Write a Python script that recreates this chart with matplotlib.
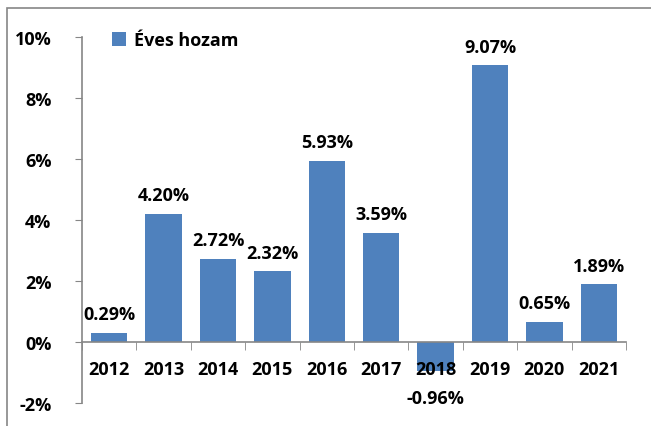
import numpy as np
import matplotlib.pyplot as plt
from matplotlib.patches import Rectangle

plt.rcParams['font.family'] = ['Open Sans', 'DejaVu Sans']

# Adatok
evek = ["2012", "2013", "2014", "2015", "2016", "2017", "2018", "2019", "2020", "2021"]
hozam = [0.29, 4.20, 2.72, 2.32, 5.93, 3.59, -0.96, 9.07, 0.65, 1.89]
sorozat = "Éves hozam"

FS = 13

W, H = 651, 427
fig = plt.figure(figsize=(W / 100, H / 100), dpi=100)
ax = fig.add_axes([82 / W, (H - 404) / H, 544 / W, 366 / H])

# tengelyek (spine pozíció előbb, mert újraépíti a tickeket)
for s in ["top", "right"]:
    ax.spines[s].set_visible(False)
ax.spines["bottom"].set_position(("data", 0))
for s in ["left", "bottom"]:
    ax.spines[s].set_color("#868686")
    ax.spines[s].set_linewidth(1.2)

x = np.arange(len(evek))
bars = ax.bar(x, hozam, width=0.67, color="#4F81BD", label=sorozat, zorder=2)

# Értékcímkék
for xi, v in zip(x, hozam):
    if v >= 0:
        ax.annotate(f"{v:.2f}%", (xi, v), xytext=(0, 7), textcoords="offset points",
                    ha="center", va="bottom", fontsize=FS, fontweight="bold")
    else:
        ax.annotate(f"{v:.2f}%", (xi, v), xytext=(0, -13), textcoords="offset points",
                    ha="center", va="top", fontsize=FS, fontweight="bold")

ax.set_xlim(-0.5, len(evek) - 0.5)
ax.set_ylim(-2, 10)
ax.set_yticks(np.arange(-2, 11, 2))
ax.set_yticklabels([f"{t}%" for t in range(-2, 11, 2)])

ax.set_xticks(x)
ax.set_xticklabels(evek)
ax.set_xticks(np.arange(-0.5, len(evek), 1), minor=True)
ax.tick_params(axis="x", which="major", length=0, pad=13)
ax.tick_params(axis="x", which="minor", length=6, color="#868686", direction="out")
ax.tick_params(axis="y", length=5, color="#868686", direction="out", pad=17)
plt.setp(ax.get_xticklabels() + ax.get_yticklabels(), fontsize=FS, fontweight="bold")
ax.set_axisbelow(False)

leg = ax.legend(loc="upper left", bbox_to_anchor=(0.025, 1.06), frameon=False,
                handlelength=0.8, handleheight=0.8, handletextpad=0.4,
                prop={"size": FS, "weight": "bold"})

# Külső keret
fig.patches.append(Rectangle((7 / W, -0.05), 2, (H - 9) / H + 0.05,
                             transform=fig.transFigure, fill=False,
                             edgecolor="#868686", linewidth=1.2))

plt.savefig("out.png", dpi=100)
